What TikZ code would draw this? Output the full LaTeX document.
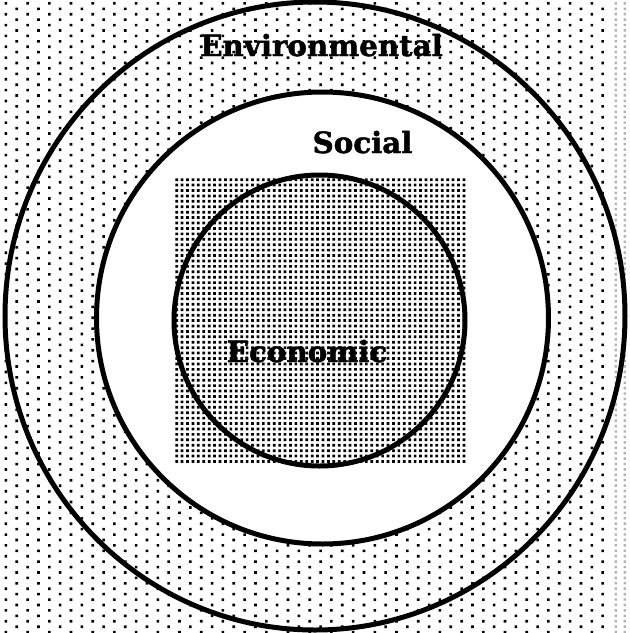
\documentclass[tikz,border=0pt]{standalone}
\usepackage{fontspec}
\setmainfont{DejaVu Serif}[BoldFeatures={FakeBold=1.6}]
\usepackage{tikz}
\usetikzlibrary{calc}

\begin{document}
\begin{tikzpicture}[x=0.3mm, y=-0.3mm,
        ring/.style={draw, line width=1.5mm},
        lbl/.style={font=\fontsize{25}{30}\selectfont\bfseries, inner sep=0, anchor=base}]
        \useasboundingbox (0,0) rectangle (630,633);
        \fill[white] (0,0) rectangle (630,633);

        \coordinate (co) at (315,316);
        \coordinate (cm) at (322.5,318);
        \coordinate (ci) at (319.5,320.5);

        % sparse dots everywhere
        \begin{scope}
            \clip (0,0) rectangle (610,633);
            \fill \foreach \j in {0,...,116} {
                \foreach \i in {0,...,28} {
                    ({4.6+mod(\j,2)*10.85+21.7*\i},{2.1+5.42*\j}) rectangle ++(2.6,2.6)
                }
            };
        \end{scope}
        \fill[gray!60] \foreach \j in {0,...,116} {
            (614.5,{2.1+5.42*\j}) rectangle ++(2.4,2.4)
            (623.5,{2.1+5.42*\j}) rectangle ++(2.4,2.4)
        };

        \filldraw[ring, fill=white] (cm) circle (226);

        % dense square
        \fill \foreach \j in {0,...,52} {
            \foreach \i in {0,...,53} {
                ({175.3+5.42*\i},{178.3+5.42*\j}) rectangle ++(2.7,2.7)
            }
        };

        \draw[ring] (ci) circle (145.5);
        \draw[ring] (co) ellipse (310 and 314);

        \node[lbl] (env) at (321.5,56) {Environmental};
        \node[lbl] (soc) at (362.5,153) {Social};
        \node[lbl] (eco) at (307,362) {Economic};
\end{tikzpicture}
\end{document}
